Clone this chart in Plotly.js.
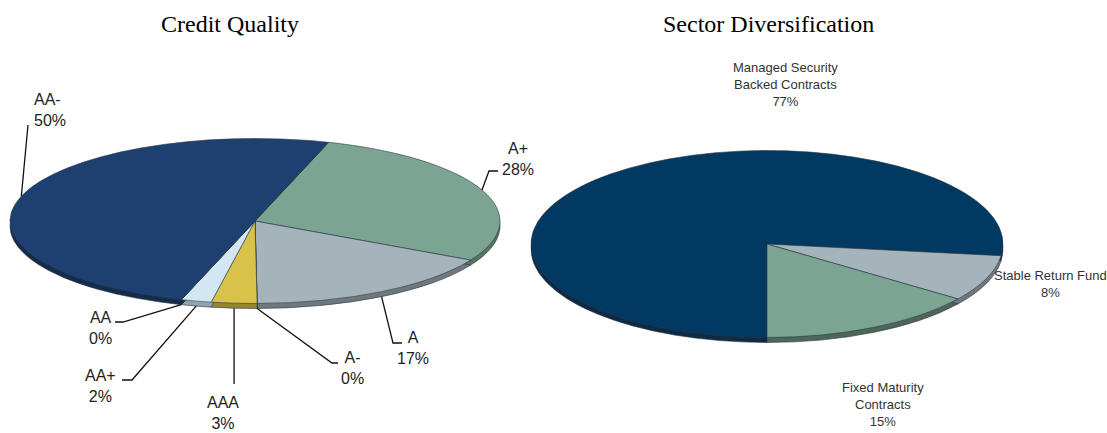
<!DOCTYPE html>
<html><head><meta charset="utf-8">
<script src="https://cdn.plot.ly/plotly-3.0.1.min.js"></script>
<style>
html,body{margin:0;padding:0;background:#fff;overflow:hidden}
#chart{width:1107px;height:433px}
.pielayer path{vector-effect:non-scaling-stroke}
</style></head><body><div id="chart"></div>
<script>
// ---- data ----
const creditTitle = 'Credit Quality';
const creditLabels = ['A+', 'A', 'A-', 'AAA', 'AA+', 'AA', 'AA-'];
const creditValues = [28, 17, 0, 3, 2, 0, 50];

const sectorTitle = 'Sector Diversification';
const sectorLabels = ['Managed Security<br>Backed Contracts', 'Stable Return Fund', 'Fixed Maturity<br>Contracts'];
const sectorValues = [77, 8, 15];

// ---- styles ----
const creditColors = ['#7ba592', '#a5b3bb', '#a5b3bb', '#d8c24a', '#d3e7f3', '#d3e7f3', '#1e4070'];
const creditRim    = ['#55745f', '#6d797f', '#6d797f', '#978630', '#93a3ac', '#93a3ac', '#132b4d'];
const sectorColors = ['#003a63', '#a5b3bb', '#7ba592'];
const sectorRim    = ['#0d2b47', '#6d797f', '#4d6657'];

const W = 1107, H = 433;
// ellipse geometry (pixels)
const geoLeft  = {cx: 255, cy: 221, rx: 245, ry: 82.5, depth: 5, rotation: 17.5};
const geoRight = {cx: 767, cy: 244, rx: 236, ry: 93.5, depth: 5, rotation: 180};

const px = x => x / W;
const py = y => 1 - y / H;
const R = 100;
function domainFor(g) {
  return {x: [px(g.cx - R), px(g.cx + R)], y: [py(g.cy + R), py(g.cy - R)]};
}

function pieTrace(labels, values, colors, g, name) {
  return {
    type: 'pie', name: name, labels: labels, values: values, sort: false,
    direction: 'clockwise', rotation: g.rotation, textinfo: 'none',
    hoverinfo: 'none', showlegend: false, domain: domainFor(g),
    marker: {colors: colors, line: {color: 'rgba(45,55,65,0.75)', width: 0.8}}
  };
}

const traces = [
  pieTrace(creditLabels, creditValues, creditRim, geoLeft, 'creditRim'),
  pieTrace(creditLabels, creditValues, creditColors, geoLeft, 'credit'),
  pieTrace(sectorLabels, sectorValues, sectorRim, geoRight, 'sectorRim'),
  pieTrace(sectorLabels, sectorValues, sectorColors, geoRight, 'sector')
];
const traceGeo = [
  {g: geoLeft, dy: geoLeft.depth}, {g: geoLeft, dy: 0},
  {g: geoRight, dy: geoRight.depth}, {g: geoRight, dy: 0}
];

// anchor point on the ellipse at the middle of slice i
function anchor(values, i, g) {
  const total = values.reduce((a, b) => a + b, 0);
  let cum = 0;
  for (let k = 0; k < i; k++) cum += values[k];
  const th = (g.rotation + (cum + values[i] / 2) / total * 360) * Math.PI / 180;
  const x = g.cx + g.rx * Math.sin(th);
  const y = g.cy - g.ry * Math.cos(th) + (Math.cos(th) < 0 ? g.depth : 0);
  return [x, y];
}

// label layout for credit pie: text pos + leader elbow points (pixels)
const creditLabelPos = [
  {x: 518, y: 159, xa: 'center', path: [[498, 171], [489, 171]]},
  {x: 413, y: 348, xa: 'center', path: [[402, 343], [393, 343]]},
  {x: 352, y: 368, xa: 'center', path: [[338, 363], [332, 363]]},
  {x: 223, y: 413, xa: 'center', path: [['ax', 384]]},
  {x: 100, y: 386, xa: 'center', path: [[122, 380], [132, 380]]},
  {x: 100, y: 328, xa: 'center', path: [[115, 322], [123, 322]]},
  {x: 32,  y: 110, xa: 'left',   path: [[28, 125]]}
];
const sectorLabelPos = [
  {x: 785, y: 84},
  {x: 1050, y: 284},
  {x: 883, y: 404}
];

const annotations = [];
const shapes = [];
annotations.push({text: creditTitle, x: px(230), y: py(24), xref: 'paper', yref: 'paper',
  showarrow: false, xanchor: 'center', yanchor: 'middle',
  font: {family: 'Liberation Serif, Times New Roman, serif', size: 24, color: '#000'}});
annotations.push({text: sectorTitle, x: px(768), y: py(24), xref: 'paper', yref: 'paper',
  showarrow: false, xanchor: 'center', yanchor: 'middle',
  font: {family: 'Liberation Serif, Times New Roman, serif', size: 24, color: '#000'}});

creditLabels.forEach((lab, i) => {
  const p = creditLabelPos[i];
  annotations.push({text: lab + '<br>' + creditValues[i] + '%', x: px(p.x), y: py(p.y),
    xref: 'paper', yref: 'paper', showarrow: false, xanchor: p.xa, yanchor: 'middle',
    align: p.xa === 'left' ? 'left' : 'center',
    font: {family: 'Liberation Sans, Arial, sans-serif', size: 16, color: '#222'}});
  const a = anchor(creditValues, i, geoLeft);
  const pts = p.path.map(q => [q[0] === 'ax' ? a[0] : q[0], q[1]]).concat([a]);
  const d = pts.map((q, k) => (k ? 'L' : 'M') + px(q[0]).toFixed(5) + ',' + py(q[1]).toFixed(5)).join(' ');
  shapes.push({type: 'path', xref: 'paper', yref: 'paper', path: d,
    line: {color: '#111', width: 1.3}});
});

sectorLabels.forEach((lab, i) => {
  const p = sectorLabelPos[i];
  annotations.push({text: lab + '<br>' + sectorValues[i] + '%', x: px(p.x), y: py(p.y),
    xref: 'paper', yref: 'paper', showarrow: false, xanchor: 'center', yanchor: 'middle',
    align: 'center', font: {family: 'Liberation Sans, Arial, sans-serif', size: 13, color: '#333'}});
});

const layout = {
  width: W, height: H, margin: {l: 0, r: 0, t: 0, b: 0},
  paper_bgcolor: '#fff', plot_bgcolor: '#fff', showlegend: false,
  annotations: annotations, shapes: shapes
};

const gd = document.getElementById('chart');
Plotly.newPlot(gd, traces, layout, {staticPlot: true, displayModeBar: false}).then(() => {
  gd.querySelectorAll('.pielayer g.trace').forEach(el => {
    const cd = el.__data__;
    if (!cd || !cd[0]) return;
    const c0 = cd[0];
    const idx = c0.trace.index;
    const tg = traceGeo[idx];
    const sx = tg.g.rx / c0.r, sy = tg.g.ry / c0.r;
    const prev = el.getAttribute('transform') || '';
    el.setAttribute('transform',
      'translate(' + tg.g.cx + ',' + (tg.g.cy + tg.dy) + ') scale(' + sx + ',' + sy + ') translate(' + (-c0.cx) + ',' + (-c0.cy) + ') ' + prev);
  });
});
</script></body></html>
